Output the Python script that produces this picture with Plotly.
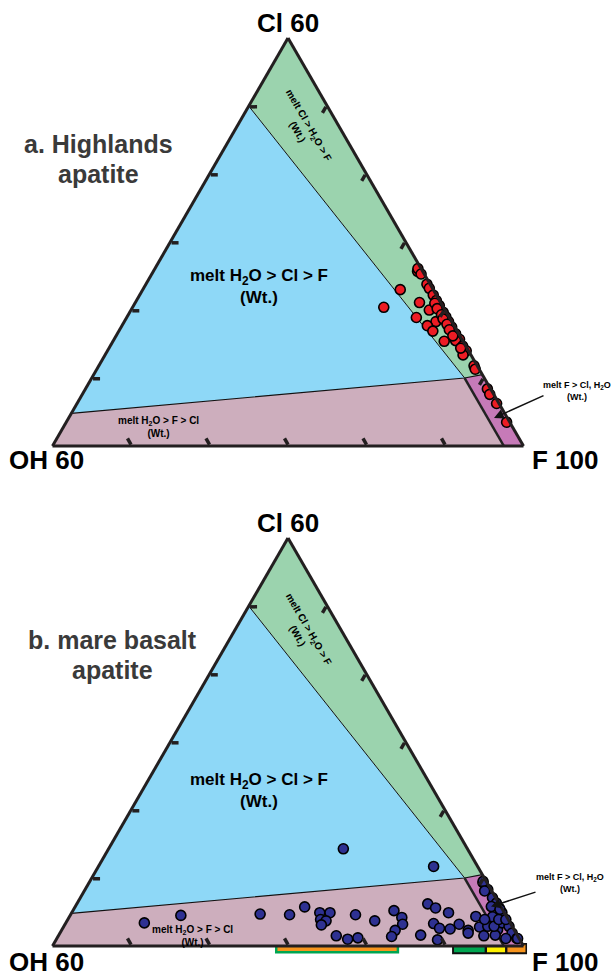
import plotly.graph_objects as go

W, H = 611, 978

# ---------------- data (wt.% Cl, OH ; F = 100 - Cl - OH) ----------------
# Highlands apatite
hl_cl = [25.7, 26.1, 25.3, 23.0, 20.4, 23.8, 23.2, 22.2, 21.4, 20.65, 21.1, 20.0, 19.65,
         19.0, 18.3, 17.5, 18.9, 18.3, 17.7, 16.9, 16.5, 15.7, 15.4, 15.5, 14.7, 14.0,
         13.4, 11.8, 11.3, 8.4, 7.6, 6.25, 3.5, 21.0, 20.2, 19.3, 18.7, 17.9, 17.1, 16.2, 14.4]
hl_oh = [0.65, 0.4, 0.4, 4.2, 7.6, 0.4, 0.4, 0.4, 0.4, 0.4, 2.7, 2.0, 0.4,
         0.4, 0.4, 0.4, 4.2, 2.0, 3.4, 3.1, 0.4, 0.3, 2.4, 0.9, 0.4, 0.3,
         1.0, 0.4, 0.5, 0.4, 0.5, 0.3, 0.4, 0.8, 0.9, 0.8, 0.9, 0.8, 0.9, 0.9, 0.8]

# Mare basalt apatite
mb_cl = [14.3, 11.7, 3.4, 4.5, 4.7, 4.6, 5.75, 4.9, 4.9, 3.9, 3.7, 3.1, 4.6, 3.7, 1.5, 1.0,
         1.2, 5.2, 4.2, 3.2, 2.3, 1.4, 1.6, 6.2, 5.6, 4.9, 3.3, 2.6, 0.9, 2.5, 3.2, 2.3,
         4.35, 2.8, 1.5, 2.9, 4.3, 2.4, 1.6, 4.9, 3.4, 2.9, 1.9, 1.1, 1.1, 9.3, 8.3, 7.1,
         6.3, 5.6, 5.8, 2.9, 3.9, 3.9, 5.4, 1.9, 3.9, 1.1, 9.5, 8.1]
mb_oh = [15.8, 5.6, 46.6, 41.4, 31.2, 27.5, 25.0, 23.5, 22.2, 23.9, 23.3, 24.2, 19.1, 17.1,
         23.1, 21.9, 20.5, 13.9, 13.4, 13.8, 15.2, 16.1, 12.3, 9.1, 8.4, 7.1, 9.8, 9.4, 10.5,
         8.1, 6.6, 5.9, 3.9, 4.2, 4.3, 3.1, 1.8, 2.1, 2.8, 0.3, 1.0, 0.4, 0.5, 0.3, 1.7, 0.5,
         0.4, 0.4, 0.3, 0.3, 1.2, 2.3, 1.2, 0.3, 0.3, 6.1, 3.0, 0.2, 0.4, 0.9]

# Melt-composition field boundaries (Cl, OH, F)
green_cl = [60, 50, 10, 10.5]
green_oh = [0, 10, 2.5, 0]
green_f = [40, 40, 87.5, 89.5]
blue_cl = [50, 4.8, 10]
blue_oh = [10, 55.2, 2.5]
blue_f = [40, 40, 87.5]
pink_cl = [4.8, 0, 0, 10]
pink_oh = [55.2, 60, 2.5, 2.5]
pink_f = [40, 40, 97.5, 87.5]
mag_cl = [10, 0, 0, 10.5]
mag_oh = [2.5, 2.5, 0, 0]
mag_f = [87.5, 97.5, 100, 89.5]

# F-content ranges drawn under panel b (wt.% F)
range1 = [68.5, 84.0]
seg_starts = [91.15, 95.35, 97.95]
seg_ends = [95.05, 97.65, 100.25]
seg_colors = ['#00A651', '#FFF200', '#F7941D']
box_range = [90.9, 100.45]

C_GREEN = '#9BD3AE'
C_BLUE = '#8ED8F7'
C_PINK = '#CDAEBD'
C_MAG = '#C67AB8'
EDGE = '#231f20'
FONT = 'Liberation Sans, Arial, sans-serif'

fig = go.Figure()

side = 471.0
hgt = side * 3 ** 0.5 / 2
x_left = 52.5
panels = [dict(sub='ternary', bottom=446.0, cl=hl_cl, oh=hl_oh, color='#ED1C24'),
          dict(sub='ternary2', bottom=946.0, cl=mb_cl, oh=mb_oh, color='#2E3192')]

for p in panels:
    s = p['sub']
    for a, b, c, col in [(green_cl, green_oh, green_f, C_GREEN), (blue_cl, blue_oh, blue_f, C_BLUE),
                         (pink_cl, pink_oh, pink_f, C_PINK), (mag_cl, mag_oh, mag_f, C_MAG)]:
        fig.add_trace(go.Scatterternary(a=a + a[:1], b=b + b[:1], c=c + c[:1], mode='lines', fill='toself',
                                        fillcolor=col, line=dict(width=0, color=col), subplot=s,
                                        hoverinfo='skip'))
    # thin boundaries
    fig.add_trace(go.Scatterternary(a=[green_cl[1], green_cl[2]], b=[green_oh[1], green_oh[2]],
                                    c=[green_f[1], green_f[2]], mode='lines',
                                    line=dict(color='#111', width=1), subplot=s, hoverinfo='skip'))
    fig.add_trace(go.Scatterternary(a=[pink_cl[0], mag_cl[0], mag_cl[3]], b=[pink_oh[0], mag_oh[0], mag_oh[3]],
                                    c=[pink_f[0], mag_f[0], mag_f[3]], mode='lines',
                                    line=dict(color='#111', width=1.2), subplot=s, hoverinfo='skip'))
    fig.add_trace(go.Scatterternary(a=[mag_cl[0], mag_cl[1]], b=[mag_oh[0], mag_oh[1]],
                                    c=[mag_f[0], mag_f[1]], mode='lines',
                                    line=dict(color='#222', width=2.5), subplot=s, hoverinfo='skip'))
    fig.add_trace(go.Scatterternary(a=p['cl'], b=p['oh'], mode='markers', subplot=s,
                                    marker=dict(size=10, color=p['color'], line=dict(color='#000', width=1.6)),
                                    cliponaxis=False))

# bars (panel b) on a hidden cartesian axis aligned with the F scale of the bottom edge
fig.add_trace(go.Bar(orientation='h', y=[0.5], base=[box_range[0]], x=[box_range[1] - box_range[0]],
                     width=[0.75], marker=dict(color='#111', line=dict(width=0)), xaxis='x', yaxis='y'))
fig.add_trace(go.Bar(orientation='h', y=[0.5] * 3, base=seg_starts,
                     x=[e - s for s, e in zip(seg_starts, seg_ends)], width=[0.5] * 3,
                     marker=dict(color=seg_colors, line=dict(width=0)), xaxis='x', yaxis='y'))
fig.add_trace(go.Bar(orientation='h', y=[0.5], base=[range1[0]], x=[range1[1] - range1[0]], width=[0.5],
                     marker=dict(color='#F7941D', line=dict(color='#00A651', width=2.5)), xaxis='x', yaxis='y'))


def axis(vals, mn):
    return dict(min=mn, tickvals=vals, ticks='inside', ticklen=7, tickwidth=3.5, tickcolor=EDGE,
                linewidth=3, linecolor=EDGE, showgrid=False, showticklabels=False, title=dict(text=''))


def tern(bottom):
    top = bottom - hgt
    return dict(sum=100, bgcolor='white',
                domain=dict(x=[x_left / W, (x_left + side) / W], y=[1 - bottom / H, 1 - top / H]),
                aaxis=axis([10, 20, 30, 40, 50], 0), baxis=axis([10, 20, 30, 40, 50], 0),
                caxis=axis([50, 60, 70, 80, 90], 40))


x_end = x_left + side * 62 / 60
layout = dict(width=W, height=H, margin=dict(l=0, r=0, t=0, b=0), paper_bgcolor='white',
              plot_bgcolor='rgba(0,0,0,0)', showlegend=False, barmode='overlay',
              ternary=tern(446.0), ternary2=tern(946.0),
              xaxis=dict(domain=[x_left / W, x_end / W], range=[40, 102], visible=False, fixedrange=True),
              yaxis=dict(domain=[1 - 956 / H, 1 - 941 / H], range=[0, 1], visible=False, fixedrange=True))


def ann(text, x, y, size, color='#000', angle=0, bold=True, **kw):
    t = f'<b>{text}</b>' if bold else text
    return dict(text=t, x=x / W, y=1 - y / H, xref='paper', yref='paper', showarrow=False,
                xanchor='center', yanchor='middle', textangle=angle,
                font=dict(family=FONT, size=size, color=color), **kw)


anns = []
for off, title_lines, title_x in [(0, ['a. Highlands', 'apatite'], 99), (500, ['b. mare basalt', 'apatite'], 113)]:
    apex_y = (446.0 if off == 0 else 946.0) - hgt
    anns.append(ann('Cl 60', 288, apex_y - 15, 26))
    anns.append(ann('OH 60', 46, 460 + (0 if off == 0 else 502), 26))
    anns.append(ann('F 100', 565, 460 + (0 if off == 0 else 502), 26))
    anns.append(ann(title_lines[0], title_x, 144 + off - (0 if off == 0 else 4), 25, color='#3a3a3a'))
    anns.append(ann(title_lines[1], title_x, 174 + off - (0 if off == 0 else 4), 25, color='#3a3a3a'))
    anns.append(ann('melt H<sub>2</sub>O &gt; Cl &gt; F<br>(Wt.)', 259, 286 + off + (0 if off == 0 else 4), 17))
    anns.append(ann('melt Cl &gt; H<sub>2</sub>O &gt; F<br>(Wt.)', 303, 128 + off + (0 if off == 0 else 4), 10,
                    angle=60))
anns.append(ann('melt H<sub>2</sub>O &gt; F &gt; Cl<br>(Wt.)', 158, 427, 10))
anns.append(ann('melt H<sub>2</sub>O &gt; F &gt; Cl<br>(Wt.)', 192, 935.5, 10))
anns.append(ann('melt F &gt; Cl, H<sub>2</sub>O<br>(Wt.)', 577, 390.5, 9))
anns.append(ann('melt F &gt; Cl, H<sub>2</sub>O<br>(Wt.)', 570, 882.5, 9))
# arrows pointing into the F-dominant field
for hx, hy, axp, ayp in [(494, 418, 51, -23), (491, 906.6, 46, -15)]:
    anns.append(dict(text='', x=hx / W, y=1 - hy / H, xref='paper', yref='paper', showarrow=True,
                     ax=axp, ay=ayp, arrowhead=2, arrowsize=1.3, arrowwidth=1.5, arrowcolor='#111'))
layout['annotations'] = anns

fig.update_layout(**layout)
# remove the browser's default 8px body margin so the 611x978 figure fills the window exactly
fig.write_html('out.html', config={'displayModeBar': False, 'staticPlot': True},
               post_script="document.body.style.margin='0px';document.body.style.overflow='hidden';")
